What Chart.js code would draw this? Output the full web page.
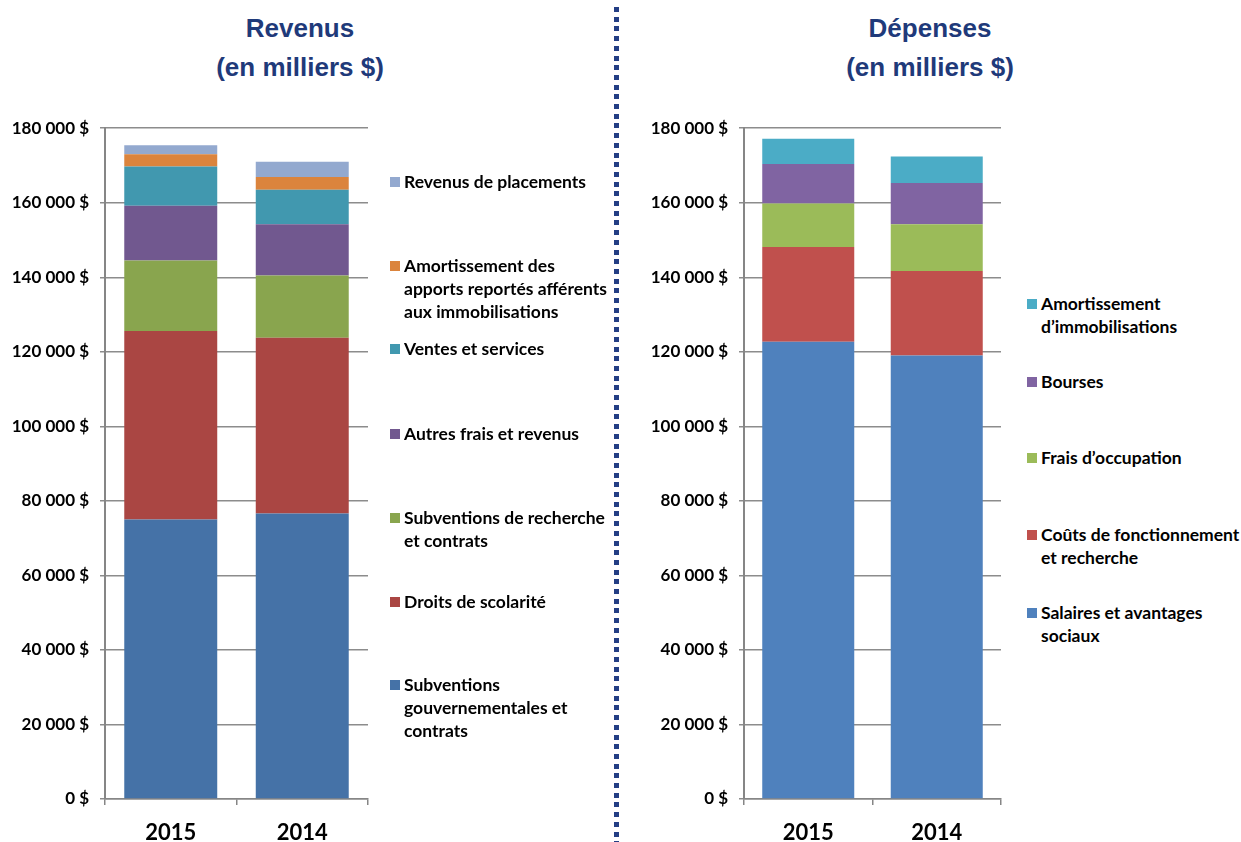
<!DOCTYPE html>
<html lang="fr">
<head>
<meta charset="utf-8">
<script src="https://cdn.jsdelivr.net/npm/chart.js@4"></script>
<style>
  body { margin: 0; background: #fff; }
  #wrap { position: relative; width: 1241px; height: 842px; overflow: hidden; font-family: Lato, "Liberation Sans", sans-serif; }
  .title { position: absolute; top: 9px; width: 300px; text-align: center; font: bold 26px "Liberation Sans", Arial, sans-serif; line-height: 39px; color: #1f3a7a; }
  .box { position: absolute; }
  .legend { position: absolute; width: 240px; height: 842px; font: bold 17.5px Lato, sans-serif; color: #000; }
  .legend .item { position: absolute; left: 0; white-space: pre; line-height: 23px; padding-left: 14px; }
  .legend .sw { position: absolute; left: 0; top: 7px; width: 10px; height: 10px; }
  #divider { position: absolute; left: 614px; top: 7px; width: 5px; height: 835px;
    background: repeating-linear-gradient(to bottom, #233e84 0 5px, transparent 5px 9.7px); }
</style>
</head>
<body>
<div id="wrap">
  <div class="title" style="left:150px">Revenus<br>(en milliers $)</div>
  <div class="title" style="left:780px">Dépenses<br>(en milliers $)</div>
  <div id="divider"></div>
  <div class="box" style="left:0;top:107px;width:370px;height:735px"><canvas id="revChart"></canvas></div>
  <div class="box" style="left:620px;top:107px;width:383px;height:735px"><canvas id="depChart"></canvas></div>
  <div class="legend" id="revLegend" style="left:390px;top:0"></div>
  <div class="legend" id="depLegend" style="left:1027px;top:0"></div>
</div>
<script>
// years on the x axis
const years = ["2015", "2014"];

// y axis ticks (thousands of $)
const yTicks = [0, 20000, 40000, 60000, 80000, 100000, 120000, 140000, 160000, 180000];

// Revenus, bottom to top of the stack
const revNames = [
  "Subventions\ngouvernementales et\ncontrats",
  "Droits de scolarité",
  "Subventions de recherche\net contrats",
  "Autres frais et revenus",
  "Ventes et services",
  "Amortissement des\napports reportés afférents\naux immobilisations",
  "Revenus de placements",
];
const revGouv = [75000, 76600];
const revScol = [50600, 47200];
const revRech = [18900, 16700];
const revAutres = [14700, 13700];
const revVentes = [10500, 9300];
const revAmort = [3300, 3400];
const revPlac = [2400, 4100];
const revColors = ["#4572a7", "#aa4643", "#89a54e", "#71588f", "#4198af", "#db843d", "#93a9cf"];

// Dépenses, bottom to top of the stack
const depNames = [
  "Salaires et avantages\nsociaux",
  "Coûts de fonctionnement\net recherche",
  "Frais d’occupation",
  "Bourses",
  "Amortissement\nd’immobilisations",
];
const depSal = [122700, 119000];
const depCouts = [25400, 22700];
const depOccup = [11700, 12500];
const depBourses = [10600, 11100];
const depAmort = [6800, 7100];
const depColors = ["#4f81bd", "#c0504d", "#9bbb59", "#8064a2", "#4bacc6"];

// legend layout (top of first text line), same order as the legend reads
const revLegendTops = [170, 254, 337, 422, 506, 590, 673];
const depLegendTops = [292, 370, 446, 523, 601];

const formatMoney = (v) => v.toString().replace(/\B(?=(\d{3})+(?!\d))/g, " ") + " $";

const buildDatasets = (names, series, colors, barPct) =>
  series.map((data, i) => ({
    label: names[i].replace(/\n/g, " "),
    data: data,
    backgroundColor: colors[i],
    borderWidth: 0,
    barPercentage: barPct,
    categoryPercentage: 1,
  }));

const createStackChart = (id, datasets, axisWidth) => {
  const ctx = document.getElementById(id).getContext("2d");
  return new Chart(ctx, {
    type: "bar",
    data: { labels: years, datasets: datasets },
    options: {
      responsive: true,
      maintainAspectRatio: false,
      animation: false,
      layout: { padding: { top: 20, right: 2, bottom: 0, left: 0 } },
      plugins: { legend: { display: false }, tooltip: { enabled: false } },
      scales: {
        x: {
          stacked: true,
          border: { color: "#868686", width: 1.5 },
          grid: { drawOnChartArea: false, color: "#868686", lineWidth: 1.5, tickLength: 6 },
          ticks: { color: "#000", padding: 15, font: { family: "Lato", weight: "bold", size: 22 } },
          afterFit: (scale) => { scale.height = 43; },
        },
        y: {
          stacked: true,
          min: 0,
          max: yTicks[yTicks.length - 1],
          afterBuildTicks: (scale) => { scale.ticks = yTicks.map((v) => ({ value: v })); },
          border: { color: "#868686", width: 2 },
          grid: { color: "#8c8c8c", lineWidth: 1.5, tickLength: 5 },
          ticks: {
            color: "#000",
            padding: 11,
            font: { family: "Lato", weight: "bold", size: 17 },
            callback: (value) => formatMoney(value),
          },
          afterFit: (scale) => { scale.width = axisWidth; },
        },
      },
    },
  });
};

const buildLegend = (id, names, colors, tops) => {
  const container = document.getElementById(id);
  container.innerHTML = names
    .map(
      (name, i) =>
        `<div class="item" style="top:${tops[i]}px"><span class="sw" style="background:${colors[i]}"></span>${name}</div>`
    )
    .join("");
};

const init = () => {
  createStackChart(
    "revChart",
    buildDatasets(revNames, [revGouv, revScol, revRech, revAutres, revVentes, revAmort, revPlac], revColors, 0.707),
    105
  );
  createStackChart(
    "depChart",
    buildDatasets(depNames, [depSal, depCouts, depOccup, depBourses, depAmort], depColors, 0.716),
    124
  );
  // legend is listed top to bottom, i.e. reverse of stack order
  buildLegend("revLegend", revNames.slice().reverse(), revColors.slice().reverse(), revLegendTops);
  buildLegend("depLegend", depNames.slice().reverse(), depColors.slice().reverse(), depLegendTops);
};

document.addEventListener("DOMContentLoaded", init);
</script>
</body>
</html>
